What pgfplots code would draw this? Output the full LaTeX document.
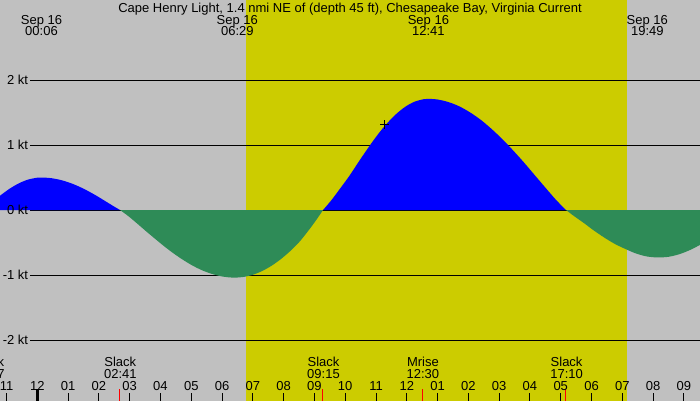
\documentclass[border=0pt]{standalone}
\usepackage{pgfplots}
\pgfplotsset{compat=1.18}
\usepackage{fontspec}
\setmainfont{Liberation Sans}
\definecolor{bg}{HTML}{C0C0C0}
\definecolor{day}{HTML}{CCCC00}
\definecolor{ebb}{HTML}{2E8B57}
\tikzset{lbl/.style={font=\fontsize{13}{15}\selectfont, inner sep=0pt, anchor=base}}
\begin{document}
\begin{tikzpicture}
\useasboundingbox (0,0) rectangle (700pt,400pt);
\begin{axis}[at={(0,0)}, anchor=south west, scale only axis, width=700pt, height=400pt,
  xmin=-1.2114, xmax=21.523, ymin=-2.9231, ymax=3.2308, axis lines=none,
  clip=true, unbounded coords=jump]
% background and daylight band
\addplot[fill=bg, draw=none] coordinates {(-2,-4) (-2,4) (23,4) (23,-4)};
\addplot[fill=day, draw=none] coordinates {(6.768,-4) (6.768,4) (19.143,4) (19.143,-4)};
% grid lines
\addplot[black, line width=1pt] coordinates {(-0.237,2) (22,2) (0,nan) (-0.237,1) (22,1) (0,nan) (-0.237,0) (22,0) (0,nan) (-0.237,-1) (22,-1) (0,nan) (-0.237,-2) (22,-2)};
% flood / ebb
\addplot[fill=blue, draw=none, smooth] table {
t v
-1.40 0.147
-1.211 0.22
-0.90 0.327
-0.60 0.41
-0.30 0.468
0.00 0.497
0.143 0.50
0.45 0.49
0.80 0.457
1.15 0.402
1.50 0.328
1.85 0.239
2.20 0.139
2.45 0.066
2.686 0
} \closedcycle;
\addplot[fill=ebb, draw=none, smooth] table {
t v
2.686 0
2.95 -0.092
3.25 -0.211
3.55 -0.334
3.85 -0.453
4.15 -0.569
4.45 -0.676
4.75 -0.772
5.05 -0.857
5.35 -0.927
5.65 -0.980
5.95 -1.018
6.20 -1.035
6.421 -1.04
6.70 -1.030
7.00 -0.996
7.30 -0.939
7.60 -0.860
7.90 -0.759
8.20 -0.638
8.50 -0.497
8.80 -0.32
9.05 -0.16
9.28 0
} \closedcycle;
\addplot[fill=blue, draw=none, smooth] table {
t v
9.28 0
9.55 0.15
9.85 0.34
10.15 0.535
10.45 0.751
10.75 0.959
11.05 1.156
11.35 1.328
11.65 1.474
11.95 1.588
12.25 1.666
12.55 1.705
12.70 1.71
13.00 1.700
13.35 1.661
13.70 1.596
14.05 1.503
14.40 1.388
14.75 1.248
15.10 1.092
15.45 0.918
15.80 0.734
16.15 0.539
16.50 0.345
16.85 0.154
17.17 0
} \closedcycle;
\addplot[fill=ebb, draw=none, smooth] table {
t v
17.17 0
17.45 -0.10
17.75 -0.20
18.06 -0.31
18.40 -0.42
18.75 -0.52
19.10 -0.60
19.45 -0.67
19.80 -0.715
20.15 -0.73
20.50 -0.72
20.85 -0.68
21.20 -0.615
21.55 -0.53
21.70 -0.49
} \closedcycle;
% current time marker
\addplot[only marks, mark=+, mark size=4.5pt, black, mark options={line width=1pt}] coordinates {(11.29,1.31)};
% hour ticks
\addplot[black, line width=1pt] coordinates {
(-1,-3) (-1,-2.815) (0,nan) (1,-3) (1,-2.815) (0,nan) (2,-3) (2,-2.815) (0,nan)
(3,-3) (3,-2.815) (0,nan) (4,-3) (4,-2.815) (0,nan) (5,-3) (5,-2.815) (0,nan)
(6,-3) (6,-2.815) (0,nan) (7,-3) (7,-2.815) (0,nan) (8,-3) (8,-2.815) (0,nan)
(9,-3) (9,-2.815) (0,nan) (10,-3) (10,-2.815) (0,nan) (11,-3) (11,-2.815) (0,nan)
(12,-3) (12,-2.815) (0,nan) (13,-3) (13,-2.815) (0,nan) (14,-3) (14,-2.815) (0,nan)
(15,-3) (15,-2.815) (0,nan) (16,-3) (16,-2.815) (0,nan) (17,-3) (17,-2.815) (0,nan)
(18,-3) (18,-2.815) (0,nan) (19,-3) (19,-2.815) (0,nan) (20,-3) (20,-2.815) (0,nan)
(21,-3) (21,-2.815)};
\addplot[black, line width=3pt] coordinates {(0,-3) (0,-2.75)};
\addplot[red, line width=1pt] coordinates {(2.683,-3) (2.683,-2.754) (0,nan) (9.25,-3) (9.25,-2.754) (0,nan) (12.5,-3) (12.5,-2.754) (0,nan) (17.167,-3) (17.167,-2.754)};
% texts
\node[lbl] at (axis cs:10.156,3.042) {Cape Henry Light, 1.4 nmi NE of (depth 45 ft), Chesapeake Bay, Virginia Current};
\node[lbl] at (axis cs:0.136,2.857) {Sep 16};
\node[lbl] at (axis cs:0.136,2.677) {00:06};
\node[lbl] at (axis cs:6.496,2.857) {Sep 16};
\node[lbl] at (axis cs:6.496,2.677) {06:29};
\node[lbl] at (axis cs:12.702,2.857) {Sep 16};
\node[lbl] at (axis cs:12.702,2.677) {12:41};
\node[lbl] at (axis cs:19.812,2.857) {Sep 16};
\node[lbl] at (axis cs:19.812,2.677) {19:49};
\node[lbl, anchor=base east] at (axis cs:-0.292,1.934) {2 kt};
\node[lbl, anchor=base east] at (axis cs:-0.292,0.934) {1 kt};
\node[lbl, anchor=base east] at (axis cs:-0.292,-0.066) {0 kt};
\node[lbl, anchor=base east] at (axis cs:-0.292,-1.066) {-1 kt};
\node[lbl, anchor=base east] at (axis cs:-0.292,-2.066) {-2 kt};
\node[lbl] at (axis cs:-1.591,-2.411) {Slack};
\node[lbl] at (axis cs:-1.591,-2.589) {22:37};
\node[lbl] at (axis cs:2.696,-2.411) {Slack};
\node[lbl] at (axis cs:2.696,-2.589) {02:41};
\node[lbl] at (axis cs:9.295,-2.411) {Slack};
\node[lbl] at (axis cs:9.295,-2.589) {09:15};
\node[lbl] at (axis cs:12.523,-2.411) {Mrise};
\node[lbl] at (axis cs:12.523,-2.589) {12:30};
\node[lbl] at (axis cs:17.19,-2.411) {Slack};
\node[lbl] at (axis cs:17.19,-2.589) {17:10};
\node[lbl] at (axis cs:-1,-2.780) {11};
\node[lbl] at (axis cs:0,-2.780) {12};
\node[lbl] at (axis cs:1,-2.780) {01};
\node[lbl] at (axis cs:2,-2.780) {02};
\node[lbl] at (axis cs:3,-2.780) {03};
\node[lbl] at (axis cs:4,-2.780) {04};
\node[lbl] at (axis cs:5,-2.780) {05};
\node[lbl] at (axis cs:6,-2.780) {06};
\node[lbl] at (axis cs:7,-2.780) {07};
\node[lbl] at (axis cs:8,-2.780) {08};
\node[lbl] at (axis cs:9,-2.780) {09};
\node[lbl] at (axis cs:10,-2.780) {10};
\node[lbl] at (axis cs:11,-2.780) {11};
\node[lbl] at (axis cs:12,-2.780) {12};
\node[lbl] at (axis cs:13,-2.780) {01};
\node[lbl] at (axis cs:14,-2.780) {02};
\node[lbl] at (axis cs:15,-2.780) {03};
\node[lbl] at (axis cs:16,-2.780) {04};
\node[lbl] at (axis cs:17,-2.780) {05};
\node[lbl] at (axis cs:18,-2.780) {06};
\node[lbl] at (axis cs:19,-2.780) {07};
\node[lbl] at (axis cs:20,-2.780) {08};
\node[lbl] at (axis cs:21,-2.780) {09};
\end{axis}
\end{tikzpicture}
\end{document}
